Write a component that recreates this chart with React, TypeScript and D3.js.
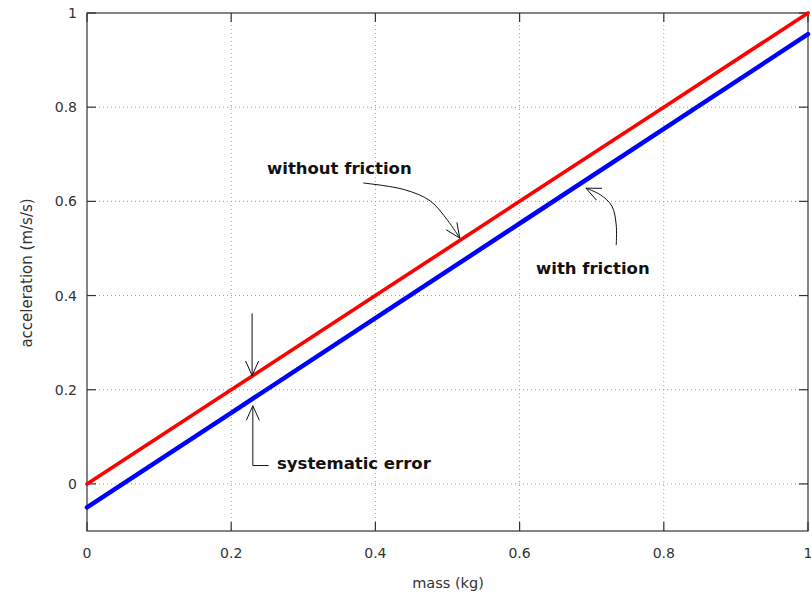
import React from 'react';
import * as d3 from 'd3';

// values
const mass = [0, 0.2, 0.4, 0.6, 0.8, 1];
const withoutFriction = [0, 0.2, 0.4, 0.6, 0.8, 1];
const withFriction = [-0.05, 0.151, 0.352, 0.553, 0.754, 0.955];

const xTicks = [0, 0.2, 0.4, 0.6, 0.8, 1];
const yTicks = [0, 0.2, 0.4, 0.6, 0.8, 1];
const xGrid = [0.2, 0.4, 0.6, 0.8];
const yGrid = [0, 0.2, 0.4, 0.6, 0.8];

// annotation arrows, in data units: the curve points, then the tip
const arrowWithout: [number, number][] = [[0.383, 0.639], [0.44, 0.625], [0.476, 0.601], [0.50, 0.56], [0.517, 0.522]];
const arrowWith: [number, number][] = [[0.734, 0.507], [0.734, 0.55], [0.728, 0.59], [0.712, 0.614], [0.692, 0.628]];
const arrowDown: [number, number][] = [[0.229, 0.362], [0.229, 0.23]];
const arrowUp: [number, number][] = [[0.252, 0.039], [0.230, 0.039], [0.230, 0.166]];

const W = 811;
const H = 593;
const margin = { top: 13, right: 3, bottom: 62, left: 87 };

const x = d3.scaleLinear().domain([0, 1]).range([margin.left, W - margin.right]);
const y = d3.scaleLinear().domain([-0.1, 1]).range([H - margin.bottom, margin.top]);

const tickFont = '"DejaVu Sans", sans-serif';

function arrowHead(pts: [number, number][], key: string) {
  // open V head at the last point, aimed along the last segment
  const [ax, ay] = pts[pts.length - 2];
  const [bx, by] = pts[pts.length - 1];
  const px0 = x(ax), py0 = y(ay), px1 = x(bx), py1 = y(by);
  const ang = Math.atan2(py1 - py0, px1 - px0);
  const len = 16;
  const spread = 0.42;
  const a1 = ang + Math.PI - spread;
  const a2 = ang + Math.PI + spread;
  const d = `M${px1 + len * Math.cos(a1)},${py1 + len * Math.sin(a1)}L${px1},${py1}L${px1 + len * Math.cos(a2)},${py1 + len * Math.sin(a2)}`;
  return <path key={key} d={d} fill="none" stroke="#111" strokeWidth={1} />;
}

const App = () => {
  const lineGen = d3.line<number>()
    .x((_, i) => x(mass[i]))
    .y(v => y(v));

  const curve = d3.line<[number, number]>()
    .x(p => x(p[0]))
    .y(p => y(p[1]))
    .curve(d3.curveCatmullRom);

  const straight = d3.line<[number, number]>()
    .x(p => x(p[0]))
    .y(p => y(p[1]));

  const x0 = x.range()[0], x1 = x.range()[1];
  const y0 = y.range()[0], y1 = y.range()[1];

  return (
    <svg width={W} height={H} style={{ position: 'absolute', left: 0, top: 0, background: '#fff' }}>
      {/* grid */}
      <g stroke="#9a9a9a" strokeWidth={1} strokeDasharray="1,3">
        {xGrid.map(t => <line key={'gx' + t} x1={x(t)} x2={x(t)} y1={y1} y2={y0} />)}
        {yGrid.map(t => <line key={'gy' + t} x1={x0} x2={x1} y1={y(t)} y2={y(t)} />)}
      </g>

      {/* frame and ticks */}
      <g stroke="#333" strokeWidth={1.2} fill="none">
        <rect x={x0} y={y1} width={x1 - x0} height={y0 - y1} />
        {xTicks.map(t => (
          <g key={'xt' + t}>
            <line x1={x(t)} x2={x(t)} y1={y0} y2={y0 - 9} />
            <line x1={x(t)} x2={x(t)} y1={y1} y2={y1 + 9} />
          </g>
        ))}
        {yTicks.map(t => (
          <g key={'yt' + t}>
            <line x1={x0} x2={x0 + 9} y1={y(t)} y2={y(t)} />
            <line x1={x1} x2={x1 - 9} y1={y(t)} y2={y(t)} />
          </g>
        ))}
      </g>

      {/* tick labels */}
      <g fontFamily={tickFont} fontSize={14} fill="#333">
        {xTicks.map(t => (
          <text key={'xl' + t} x={x(t)} y={558} textAnchor="middle">{String(t)}</text>
        ))}
        {yTicks.map(t => (
          <text key={'yl' + t} x={77} y={y(t) + 5} textAnchor="end">{String(t)}</text>
        ))}
      </g>

      {/* axis titles */}
      <text x={448} y={588} textAnchor="middle" fontFamily={tickFont} fontSize={14.5} fill="#333">mass (kg)</text>
      <text transform={`translate(32,273) rotate(-90)`} textAnchor="middle" fontFamily={tickFont} fontSize={15} fill="#333">acceleration (m/s/s)</text>

      {/* series */}
      <path d={lineGen(withFriction) || ''} fill="none" stroke="#0000ff" strokeWidth={4.5} strokeLinecap="round" />
      <path d={lineGen(withoutFriction) || ''} fill="none" stroke="#ff0000" strokeWidth={3.6} strokeLinecap="round" />

      {/* annotations */}
      <g fill="none" stroke="#111" strokeWidth={1}>
        <path d={curve(arrowWithout) || ''} />
        {arrowHead(arrowWithout, 'h1')}
        <path d={curve(arrowWith) || ''} />
        {arrowHead(arrowWith, 'h2')}
        <path d={straight(arrowDown) || ''} />
        {arrowHead(arrowDown, 'h3')}
        <path d={straight(arrowUp) || ''} />
        {arrowHead(arrowUp, 'h4')}
      </g>
      <g fontFamily={'"DejaVu Sans", sans-serif'} fontWeight="bold" fontSize={16.5} fill="#111">
        <text x={267} y={174}>without friction</text>
        <text x={536} y={274}>with friction</text>
        <text x={277} y={469}>systematic error</text>
      </g>
    </svg>
  );
};

export default App;
